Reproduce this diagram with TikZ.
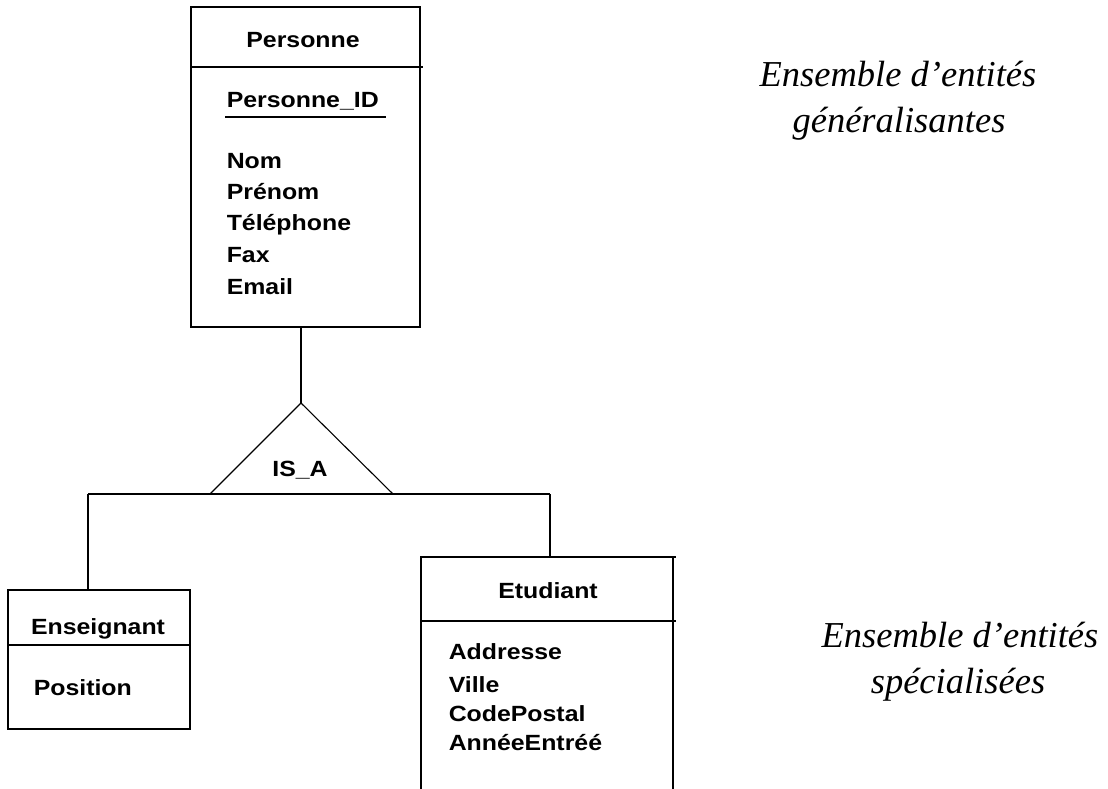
\documentclass[tikz,border=0pt]{standalone}
\usepackage{fontspec}
\newfontfamily\boxfont[FakeStretch=1.13]{Liberation Sans}
\newfontfamily\notefont{Liberation Serif}
\begin{document}
\begin{tikzpicture}[x=1pt,y=-1pt,
  line width=1.5pt,
  entity/.style={draw, rectangle, inner sep=0pt, outer sep=0pt},
  attr/.style={inner sep=0pt, anchor=base west, font=\boxfont\bfseries\fontsize{22}{26}\selectfont},
  title/.style={inner sep=0pt, anchor=base, font=\boxfont\bfseries\fontsize{22}{26}\selectfont},
  note/.style={inner sep=0pt, anchor=base, font=\notefont\itshape\fontsize{36.5}{46}\selectfont}]
\useasboundingbox (0,0) rectangle (1108,789);

% --- generalised entity set ---
\node[entity, minimum width=229pt, minimum height=320pt] (pers) at (305.5,167) {};
\draw (pers.west |- 0,67) -- ([xshift=3pt]pers.east |- 0,67);
\node[title] (persT) at (303,48) {Personne};
\node[attr] (persID) at (226,108) {Personne\_ID};
\coordinate (ulA) at (225,117);
\coordinate (ulB) at (386,117);
\draw[line width=1.2pt] (ulA) -- (ulB);
\node[attr] (nom) at (226,168) {Nom};
\node[attr] (prenom) at (226,199) {Prénom};
\node[attr] (tel) at (226,230) {Téléphone};
\node[attr] (fax) at (226,262) {Fax};
\node[attr] (email) at (226,294) {Email};

% --- IS_A triangle ---
\coordinate (apex) at (301,403);
\coordinate (baseL) at (210,494);
\coordinate (baseR) at (393,494);
\draw[line width=1.1pt] (baseL) -- (apex) -- (baseR);
\node[title] (isa) at (300,476) {IS\_A};
\draw (pers.south -| apex) -- (apex);

% --- specialised entity sets ---
\node[entity, minimum width=182pt, minimum height=139pt] (ens) at (99,659.5) {};
\draw (ens.west |- 0,645) -- (ens.east |- 0,645);
\node[title] (ensT) at (98,634) {Enseignant};
\node[attr] (pos) at (33,695) {Position};

\node[entity, minimum width=252pt, minimum height=232.8pt] (etu) at (547,673.4) {};
\draw (etu.north west) -- ([xshift=3pt]etu.north east);
\draw (etu.west |- 0,621) -- ([xshift=3pt]etu.east |- 0,621);
\node[title] (etuT) at (548,598) {Etudiant};
\node[attr] (adr) at (448,659) {Addresse};
\node[attr] (ville) at (448,692) {Ville};
\node[attr] (cp) at (448,721) {CodePostal};
\node[attr] (annee) at (448,750) {AnnéeEntréé};

% --- branching connector ---
\coordinate (barL) at (88,494);
\coordinate (barR) at (550,494);
\draw (barL) -- (barR);
\draw (barL) -- (barL |- ens.north);
\draw (barR) -- (barR |- etu.north);

% --- side notes ---
\node[note] (g1) at (898,87) {Ensemble d’entités};
\node[note] (g2) at (899,133) {généralisantes};
\node[note] (s1) at (960,647) {Ensemble d’entités};
\node[note] (s2) at (958,693) {spécialisées};
\end{tikzpicture}
\end{document}
